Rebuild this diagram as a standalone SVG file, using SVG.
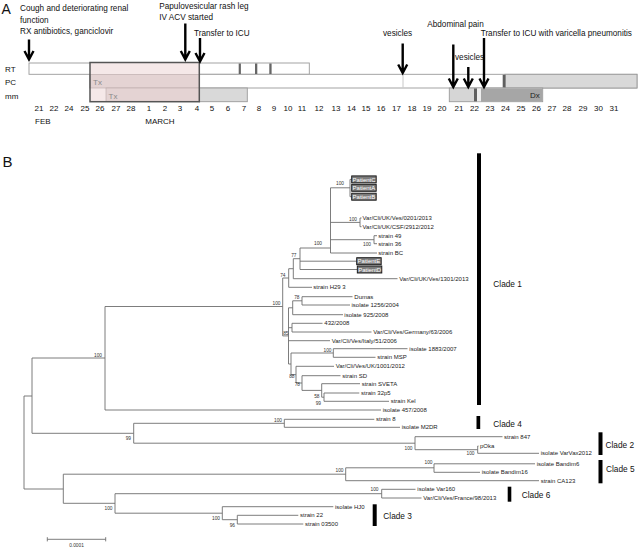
<svg xmlns="http://www.w3.org/2000/svg" width="640" height="548" viewBox="0 0 640 548">
<style>
text{font-family:"Liberation Sans",Arial,sans-serif;}
.ann{font-size:8.2px;fill:#111;}
.date{font-size:8px;fill:#111;text-anchor:middle;}
.row{font-size:8px;fill:#111;}
.arr{stroke:#000;stroke-width:2.4;fill:none;stroke-linejoin:miter;}
.br{stroke:#6e6e6e;stroke-width:0.9;fill:none;}
.tip{font-size:6px;fill:#222;}
.bs{font-size:4.8px;fill:#333;text-anchor:end;}
.pt{fill:#7c7c7c;stroke:#111;stroke-width:0.9;}
.ptt{font-size:6px;fill:#fff;}
.clb{fill:#000;}
.clt{font-size:8.3px;fill:#111;}
.bar{stroke:#9a9a9a;stroke-width:0.9;}
</style>

<!-- PANEL A -->
<g id="panelA">
<text x="1.5" y="14" style="font-size:14px;fill:#111;">A</text>
<text class="row" x="5" y="71.5">RT</text>
<text class="row" x="5" y="85">PC</text>
<text class="row" x="5" y="98.5">mm</text>

<g id="bars">
<rect class="bar" x="29" y="63" width="280.3" height="11.3" fill="#fff"/>
<rect class="bar" x="90" y="74.3" width="547" height="13.7" fill="#fff"/>
<rect class="bar" x="505" y="74.3" width="132" height="13.7" fill="#d9d9d9"/>
<rect x="502.7" y="74.8" width="2.8" height="12.8" fill="#5f5f5f"/>
<line x1="403" y1="74.8" x2="403" y2="87.6" stroke="#c8c8c8" stroke-width="1"/>
<rect class="bar" x="199" y="88" width="48.3" height="13.7" fill="#d9d9d9"/>
<rect class="bar" x="449.3" y="88" width="93.4" height="13.7" fill="#d6d6d6"/>
<rect x="481" y="88.5" width="61.3" height="12.8" fill="#a6a6a6"/>
<rect x="477" y="88.5" width="4" height="12.8" fill="#ededed"/>
<rect x="474" y="88.5" width="3" height="12.8" fill="#5f5f5f"/>
<text x="530" y="98.3" style="font-size:8px;fill:#222;">Dx</text>
<rect x="238.7" y="63.5" width="2.2" height="10.5" fill="#666"/>
<rect x="255" y="63.5" width="2.3" height="10.5" fill="#666"/>
<rect x="269.3" y="63.5" width="2.3" height="10.5" fill="#666"/>
<rect x="90" y="62.5" width="109.3" height="39.2" fill="#f5e8e8"/>
<rect x="90" y="74.3" width="109.3" height="13.7" fill="#e4d3d3" stroke="#b9a9a9" stroke-width="0.6"/>
<rect x="106" y="88" width="93.3" height="13.7" fill="#e4d3d3" stroke="#b9a9a9" stroke-width="0.6"/>
<rect x="90" y="62.5" width="109.3" height="39.2" fill="none" stroke="#555" stroke-width="1.5"/>
<text x="93" y="85" style="font-size:8px;fill:#8a8a8a;">Tx</text>
<text x="108.5" y="98.5" style="font-size:8px;fill:#8a8a8a;">Tx</text>
</g>

<g id="ev1">
<text class="ann" x="20" y="11">Cough and deteriorating renal</text>
<text class="ann" x="20" y="22.5">function</text>
<text class="ann" x="20" y="34">RX antibiotics, ganciclovir</text>
<path class="arr" d="M29,39.5 V59 M24.5,51 L29,59.5 L33.5,51"/>
</g>
<g id="ev2">
<text class="ann" x="159.3" y="9">Papulovesicular rash leg</text>
<text class="ann" x="159.3" y="19.5">IV ACV started</text>
<path class="arr" d="M185.3,23.5 V59 M180.8,51 L185.3,59.5 L189.8,51"/>
</g>
<g id="ev3">
<text class="ann" x="194" y="35.5">Transfer to ICU</text>
<path class="arr" d="M200,38 V61 M195.5,53 L200,61.5 L204.5,53"/>
</g>
<g id="ev4">
<text class="ann" x="383" y="36">vesicles</text>
<path class="arr" d="M402.7,43.5 V72.5 M398.2,64.5 L402.7,73 L407.2,64.5"/>
</g>
<g id="ev5">
<text class="ann" x="427.3" y="27">Abdominal pain</text>
<path class="arr" d="M453.3,44.5 V86.5 M448.8,78.5 L453.3,87 L457.8,78.5"/>
</g>
<g id="ev6">
<text class="ann" x="455" y="60">vesicles</text>
<path class="arr" d="M468.3,67 V86.5 M463.8,78.5 L468.3,87 L472.8,78.5"/>
</g>
<g id="ev7">
<text class="ann" x="480.7" y="36">Transfer to ICU  with varicella pneumonitis</text>
<path class="arr" d="M484,38 V86.5 M479.5,78.5 L484,87 L488.5,78.5"/>
</g>

<g id="dates">
<text class="date" x="39" y="110.5">21</text>
<text class="date" x="54" y="110.5">22</text>
<text class="date" x="69" y="110.5">24</text>
<text class="date" x="85" y="110.5">25</text>
<text class="date" x="100" y="110.5">26</text>
<text class="date" x="116" y="110.5">27</text>
<text class="date" x="131" y="110.5">28</text>
<text class="date" x="149" y="110.5">1</text>
<text class="date" x="165" y="110.5">2</text>
<text class="date" x="180" y="110.5">3</text>
<text class="date" x="197" y="110.5">4</text>
<text class="date" x="212" y="110.5">5</text>
<text class="date" x="228" y="110.5">6</text>
<text class="date" x="244" y="110.5">7</text>
<text class="date" x="259" y="110.5">8</text>
<text class="date" x="274" y="110.5">9</text>
<text class="date" x="288" y="110.5">10</text>
<text class="date" x="302" y="110.5">11</text>
<text class="date" x="319" y="110.5">12</text>
<text class="date" x="336" y="110.5">13</text>
<text class="date" x="351.5" y="110.5">14</text>
<text class="date" x="366" y="110.5">15</text>
<text class="date" x="381" y="110.5">16</text>
<text class="date" x="396.5" y="110.5">17</text>
<text class="date" x="412" y="110.5">18</text>
<text class="date" x="427" y="110.5">19</text>
<text class="date" x="442" y="110.5">20</text>
<text class="date" x="459" y="110.5">21</text>
<text class="date" x="474.5" y="110.5">22</text>
<text class="date" x="490" y="110.5">23</text>
<text class="date" x="505.5" y="110.5">24</text>
<text class="date" x="521" y="110.5">25</text>
<text class="date" x="536.5" y="110.5">26</text>
<text class="date" x="552" y="110.5">27</text>
<text class="date" x="567" y="110.5">28</text>
<text class="date" x="583" y="110.5">29</text>
<text class="date" x="598.5" y="110.5">30</text>
<text class="date" x="614" y="110.5">31</text>
<text class="row" x="35" y="124">FEB</text>
<text class="row" x="145.3" y="124">MARCH</text>
</g>
</g>

<!-- PANEL B -->
<text x="2.5" y="166.5" style="font-size:15px;fill:#111;">B</text>

<g id="connectors">
<path class="br" d="M24,396 V489 M24,396 H32 M24,489 H63.3
M32,358 V433.3 M32,358 H105 M32,433.3 H133.7
M105,306.5 V410 M105,306.5 H282.7 M105,410 H381
M282.7,278 V335.9 M282.7,278 H288.7 M282.7,335.9 H288.5
M288.7,268.7 V287.3 M288.7,268.7 H293.3 M288.7,287.3 H312
M293.3,258.7 V278.7 M293.3,258.7 H300 M293.3,278.7 H397.5
M300,248 V269.5 M300,248 H330.5 M300,261.2 H356.7 M300,269.5 H357.3
M330.5,187.8 V253 M330.5,187.8 H350 M330.5,222.4 H360 M330.5,239.7 H374 M330.5,253 H377
M350,179.4 V196.7 M350,179.4 H351.7 M350,196.7 H351.7
M360,218 V226.7 M360,218 H361.5 M360,226.7 H361.5
M374,235.7 V243.7 M374,235.7 H377 M374,243.7 H377
M288.5,307.8 V364 M288.5,307.8 H292.7 M288.5,327.7 H292 M288.5,340.7 H330 M288.5,364 H291
M292.7,300.8 V314.7 M292.7,300.8 H302 M292.7,314.7 H343
M302,296.7 V305 M302,296.7 H352.5 M302,305 H350
M292,323.3 V332 M292,323.3 H322.5 M292,332 H371.5
M291,353 V374.7 M291,353 H333.3 M291,374.7 H296
M333.3,348.7 V357.3 M333.3,348.7 H407.5 M333.3,357.3 H375.5
M296,366.3 V383 M296,366.3 H334 M296,383 H302
M302,375.7 V390.4 M302,375.7 H340.5 M302,390.4 H321.7
M321.7,383.7 V397.2 M321.7,383.7 H360 M321.7,397.2 H324
M324,393 V401.3 M324,393 H359.3 M324,401.3 H389
M133.7,423.3 V443.2 M133.7,423.3 H284.3 M133.7,443.2 H415
M284.3,419.3 V427.3 M284.3,419.3 H374.3 M284.3,427.3 H400
M415,436.7 V449.7 M415,436.7 H502.5 M415,449.7 H477.7
M477.7,446 V453.3 M477.7,446 H478.5 M477.7,453.3 H539
M63.3,474.2 V503.3 M63.3,474.2 H345.7 M63.3,503.3 H115
M345.7,467.8 V480.7 M345.7,467.8 H434 M345.7,480.7 H539
M434,463.8 V472.3 M434,463.8 H535 M434,472.3 H480
M115,493.7 V513.2 M115,493.7 H381.7 M115,513.2 H222.3
M381.7,489.3 V498 M381.7,489.3 H415.5 M381.7,498 H421.5
M222.3,506.7 V519.7 M222.3,506.7 H333.3 M222.3,519.7 H237.3
M237.3,515.3 V524 M237.3,515.3 H298.3 M237.3,524 H303.3"/>
</g>

<g id="bootstrap">
<text class="bs" x="344" y="185">100</text>
<text class="bs" x="357" y="221">100</text>
<text class="bs" x="371" y="245.5">100</text>
<text class="bs" x="322" y="245">100</text>
<text class="bs" x="296.5" y="256.5">77</text>
<text class="bs" x="285.5" y="276.5">74</text>
<text class="bs" x="299.5" y="298.5">78</text>
<text class="bs" x="280.5" y="305">100</text>
<text class="bs" x="288.5" y="334.5">85</text>
<text class="bs" x="331.5" y="351.5">100</text>
<text class="bs" x="294.5" y="377.5">88</text>
<text class="bs" x="300" y="386">78</text>
<text class="bs" x="319.5" y="397.5">58</text>
<text class="bs" x="321" y="404.5">99</text>
<text class="bs" x="102" y="356.5">100</text>
<text class="bs" x="131" y="440">99</text>
<text class="bs" x="282" y="421.5">100</text>
<text class="bs" x="412.5" y="450">100</text>
<text class="bs" x="474.5" y="454.5">100</text>
<text class="bs" x="343.5" y="471.5">100</text>
<text class="bs" x="432.5" y="464">100</text>
<text class="bs" x="112.5" y="510">100</text>
<text class="bs" x="378.5" y="491">100</text>
<text class="bs" x="220" y="520">100</text>
<text class="bs" x="235" y="526.5">96</text>
</g>

<g id="patients">
<g id="n-PatientC"><rect class="pt" x="351.7" y="175.9" width="24.5" height="7"/><text class="ptt" x="352.6" y="181.5">PatientC</text></g>
<g id="n-PatientA"><rect class="pt" x="351.7" y="184.3" width="24.5" height="7"/><text class="ptt" x="352.6" y="189.9">PatientA</text></g>
<g id="n-PatientB"><rect class="pt" x="351.7" y="193.2" width="24.5" height="7"/><text class="ptt" x="352.6" y="198.8">PatientB</text></g>
<g id="n-PatientE"><rect class="pt" x="356.7" y="257.7" width="24.5" height="7"/><text class="ptt" x="357.6" y="263.3">PatientE</text></g>
<g id="n-PatientD"><rect class="pt" x="357.3" y="266" width="24.5" height="7"/><text class="ptt" x="358.2" y="271.6">PatientD</text></g>
</g>

<g id="tips">
<g id="n1"><text class="tip" x="362.5" y="220">Var/Cli/UK/Ves/0201/2013</text></g>
<g id="n2"><text class="tip" x="362.5" y="228.7">Var/Cli/UK/CSF/2912/2012</text></g>
<g id="n3"><text class="tip" x="378.3" y="237.7">strain 49</text></g>
<g id="n4"><text class="tip" x="378.3" y="245.7">strain 36</text></g>
<g id="n5"><text class="tip" x="378.3" y="255">strain BC</text></g>
<g id="n6"><text class="tip" x="399.3" y="280.7">Var/Cli/UK/Ves/1301/2013</text></g>
<g id="n7"><text class="tip" x="313.3" y="289.3">strain H29 3</text></g>
<g id="n8"><text class="tip" x="354.3" y="298.7">Dumas</text></g>
<g id="n9"><text class="tip" x="351.5" y="307">isolate 1256/2004</text></g>
<g id="n10"><text class="tip" x="344.3" y="316.7">isolate 925/2008</text></g>
<g id="n11"><text class="tip" x="324.3" y="325.3">432/2008</text></g>
<g id="n12"><text class="tip" x="373.3" y="334">Var/Cli/Ves/Germany/63/2006</text></g>
<g id="n13"><text class="tip" x="331.7" y="342.7">Var/Cli/Ves/Italy/51/2006</text></g>
<g id="n14"><text class="tip" x="409.3" y="350.7">isolate 1883/2007</text></g>
<g id="n15"><text class="tip" x="377.3" y="359.3">strain MSP</text></g>
<g id="n16"><text class="tip" x="335.7" y="368.3">Var/Cli/Ves/UK/1001/2012</text></g>
<g id="n17"><text class="tip" x="342.3" y="377.7">strain SD</text></g>
<g id="n18"><text class="tip" x="361.7" y="385.7">strain SVETA</text></g>
<g id="n19"><text class="tip" x="361" y="395">strain 32p5</text></g>
<g id="n20"><text class="tip" x="390.7" y="403.3">strain Kel</text></g>
<g id="n21"><text class="tip" x="382.7" y="412">isolate 457/2008</text></g>
<g id="n22"><text class="tip" x="376" y="421.3">strain 8</text></g>
<g id="n23"><text class="tip" x="401.7" y="429.3">isolate M2DR</text></g>
<g id="n24"><text class="tip" x="504" y="438.7">strain 847</text></g>
<g id="n25"><text class="tip" x="480" y="448">pOka</text></g>
<g id="n26"><text class="tip" x="540.7" y="455.3">isolate VarVax2012</text></g>
<g id="n27"><text class="tip" x="536.7" y="465.8">isolate Bandim6</text></g>
<g id="n28"><text class="tip" x="481.7" y="474.3">isolate Bandim16</text></g>
<g id="n29"><text class="tip" x="540.7" y="482.7">strain CA123</text></g>
<g id="n30"><text class="tip" x="417.3" y="491.3">isolate Var160</text></g>
<g id="n31"><text class="tip" x="423.3" y="500">Var/Cli/Ves/France/98/2013</text></g>
<g id="n32"><text class="tip" x="335" y="508.7">isolate HJ0</text></g>
<g id="n33"><text class="tip" x="300" y="517.3">strain 22</text></g>
<g id="n34"><text class="tip" x="305" y="526">strain 03500</text></g>
</g>

<g id="clades">
<g id="clade1"><rect class="clb" x="477" y="153.3" width="4" height="251.7"/><text class="clt" x="493.3" y="286.5">Clade 1</text></g>
<g id="clade4"><rect class="clb" x="476.5" y="416" width="3.7" height="13"/><text class="clt" x="493.3" y="426.5">Clade 4</text></g>
<g id="clade2"><rect class="clb" x="598.5" y="432.3" width="4" height="22.7"/><text class="clt" x="605.5" y="448.3">Clade 2</text></g>
<g id="clade5"><rect class="clb" x="598.5" y="460" width="4" height="23.3"/><text class="clt" x="606" y="472.3">Clade 5</text></g>
<g id="clade6"><rect class="clb" x="507.7" y="486.7" width="3.6" height="15"/><text class="clt" x="521.7" y="497.5">Clade 6</text></g>
<g id="clade3"><rect class="clb" x="372.7" y="504.3" width="4" height="21.7"/><text class="clt" x="383.3" y="518.5">Clade 3</text></g>
</g>

<g id="scalebar">
<path class="br" d="M47.3,539.3 H105.7 M47.3,537.2 V541.4 M105.7,537.2 V541.4"/>
<text x="76.5" y="547" style="font-size:4.8px;fill:#333;text-anchor:middle;">0.0001</text>
</g>
</svg>
